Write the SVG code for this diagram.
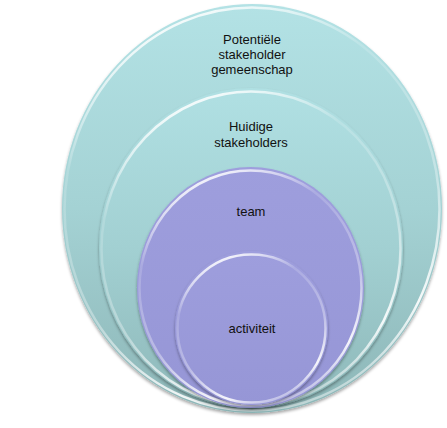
<svg xmlns="http://www.w3.org/2000/svg" width="447" height="428" viewBox="0 0 447 428">
<style>
  .lbl { font-family: "Liberation Sans", Arial, sans-serif; font-size: 13px; fill: #111111; text-anchor: middle; }
  .rim { fill: none; stroke: url(#rim); stroke-width: 2.5; }
</style>
<defs>
  <linearGradient id="teal" x1="0" y1="0" x2="0" y2="1">
    <stop offset="0" stop-color="#B3E2E5"/>
    <stop offset="0.5" stop-color="#A4D2D4"/>
    <stop offset="1" stop-color="#8DB6B7"/>
  </linearGradient>
  <linearGradient id="teal2" x1="0" y1="0" x2="0" y2="1">
    <stop offset="0" stop-color="#B0E0E3"/>
    <stop offset="0.5" stop-color="#A2D0D2"/>
    <stop offset="1" stop-color="#8EB8B9"/>
  </linearGradient>
  <linearGradient id="purple" x1="0" y1="0" x2="0" y2="1">
    <stop offset="0" stop-color="#9E9EDD"/>
    <stop offset="1" stop-color="#9696D6"/>
  </linearGradient>
  <linearGradient id="rim" x1="0.3" y1="0" x2="0.7" y2="1">
    <stop offset="0" stop-color="#ffffff" stop-opacity="0.95"/>
    <stop offset="0.25" stop-color="#ffffff" stop-opacity="0.15"/>
    <stop offset="0.6" stop-color="#ffffff" stop-opacity="0.35"/>
    <stop offset="0.85" stop-color="#ffffff" stop-opacity="0.9"/>
    <stop offset="1" stop-color="#ffffff" stop-opacity="0.3"/>
  </linearGradient>
  <filter id="shadow" x="-10%" y="-10%" width="120%" height="125%">
    <feDropShadow dx="0" dy="2" stdDeviation="1.5" flood-color="#000" flood-opacity="0.35"/>
  </filter>
</defs>
<g id="node-potentiele">
  <ellipse cx="252" cy="208.5" rx="190" ry="204.5" fill="url(#teal)" filter="url(#shadow)"/>
  <ellipse class="rim" cx="252" cy="209" rx="187.5" ry="201.5"/>
  <text class="lbl" x="252" y="44">Potentiële</text>
  <text class="lbl" x="252" y="59">stakeholder</text>
  <text class="lbl" x="252" y="74">gemeenschap</text>
</g>
<g id="node-huidige">
  <ellipse cx="251" cy="248" rx="152" ry="160" fill="url(#teal2)" filter="url(#shadow)"/>
  <ellipse class="rim" cx="251" cy="248.5" rx="149.5" ry="157"/>
  <text class="lbl" x="251" y="131">Huidige</text>
  <text class="lbl" x="251" y="147">stakeholders</text>
</g>
<g id="node-team">
  <ellipse cx="250.5" cy="287.5" rx="113.5" ry="120.5" fill="url(#purple)" filter="url(#shadow)"/>
  <ellipse class="rim" cx="250.5" cy="288" rx="111" ry="117.5"/>
  <text class="lbl" x="251" y="216">team</text>
</g>
<g id="node-activiteit">
  <ellipse cx="251.5" cy="328" rx="76.5" ry="77" fill="url(#purple)" filter="url(#shadow)"/>
  <ellipse class="rim" cx="251.5" cy="328.5" rx="74" ry="74"/>
  <text class="lbl" x="252" y="333">activiteit</text>
</g>
<g id="connectors"></g>
</svg>
